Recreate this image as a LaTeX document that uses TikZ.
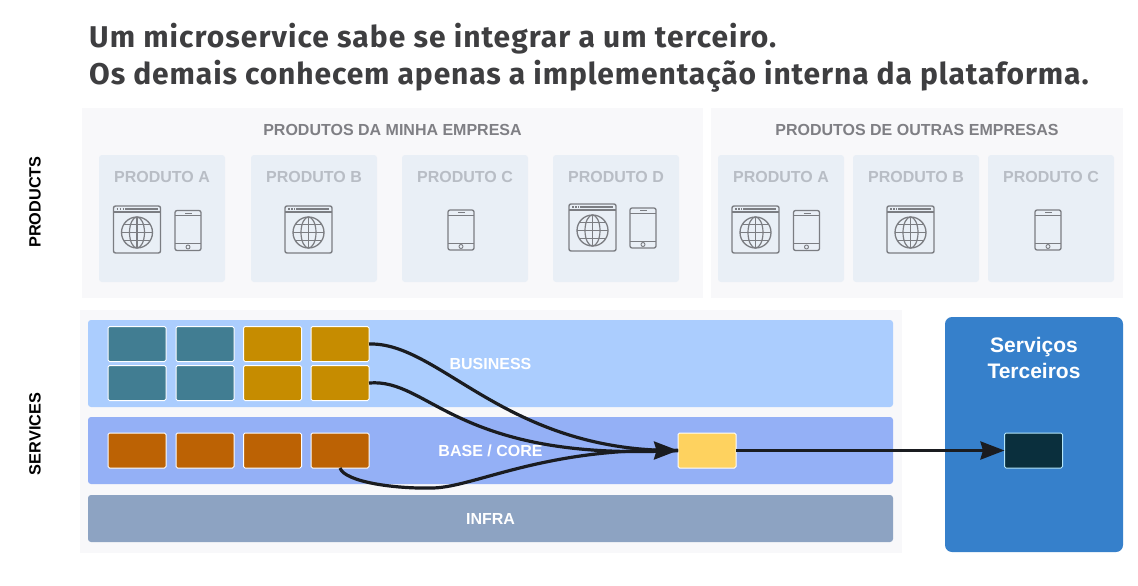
\documentclass[tikz,border=0pt]{standalone}
\usepackage{fontspec}
\setmainfont{Liberation Sans}
\newfontfamily\titlefont[LetterSpace=3.0]{Fira Sans}
\newfontfamily\titlefontb[LetterSpace=3.5]{Fira Sans}
\usetikzlibrary{arrows.meta}
\definecolor{titlec}{HTML}{3E3E40}
\definecolor{panelc}{HTML}{F8F8FA}
\definecolor{cardc}{HTML}{E9EFF6}
\definecolor{cardtext}{HTML}{B8BDC5}
\definecolor{headtext}{HTML}{7F7F84}
\definecolor{iconc}{HTML}{7B7D82}
\definecolor{businessc}{HTML}{ABCDFE}
\definecolor{basec}{HTML}{94B0F6}
\definecolor{infrac}{HTML}{8DA3C2}
\definecolor{thirdc}{HTML}{3680CB}
\definecolor{tealc}{HTML}{417D92}
\definecolor{goldc}{HTML}{C68C00}
\definecolor{orangec}{HTML}{BC6204}
\definecolor{yellowc}{HTML}{FED25F}
\definecolor{darkc}{HTML}{0A2F3D}
\definecolor{arrowc}{HTML}{1A1C20}
\tikzset{
  panel/.style={fill=panelc,draw=none,inner sep=0pt,outer sep=0pt,anchor=north west},
  card/.style={fill=cardc,draw=none,rounded corners=3pt,inner sep=0pt,outer sep=0pt,minimum width=126pt,minimum height=127pt,anchor=north west},
  band/.style={draw=none,rounded corners=3pt,inner sep=0pt,outer sep=0pt,minimum width=805pt,anchor=north west},
  cell/.style={draw=white,line width=1pt,rounded corners=1.5pt,inner sep=0pt,outer sep=0pt,minimum width=58pt,minimum height=35pt,anchor=north west},
  headlabel/.style={text=headtext,font=\bfseries\fontsize{16}{18}\selectfont,inner sep=0pt},
  cardlabel/.style={text=cardtext,font=\bfseries\fontsize{16}{18}\selectfont,inner sep=0pt},
  bandlabel/.style={text=white,font=\bfseries\fontsize{16}{18}\selectfont,inner sep=0pt},
  sidelabel/.style={text=black,font=\bfseries\fontsize{16.3}{18}\selectfont,inner sep=0pt,rotate=90},
  titleline/.style={text=titlec,inner sep=0pt,anchor=west},
  flow/.style={draw=arrowc,line width=3.2pt},
  flowhead/.style={draw=arrowc,line width=3.2pt,-{Stealth[length=24pt,width=18pt,inset=2.5pt]}},
  web/.pic={
    \draw[iconc,line width=1.4pt,rounded corners=2pt] (0,0) rectangle (47,47);
    \draw[iconc,line width=1.2pt] (0,6) -- (47,6);
    \draw[iconc,line width=1.1pt] (11,3) -- (44,3);
    \draw[iconc,line width=1.1pt,dash pattern=on 1.5pt off 1.5pt] (3,3) -- (10,3);
    \draw[iconc,line width=1.3pt] (23.5,26.5) circle[radius=15.5];
    \draw[iconc,line width=1.2pt] (23.5,26.5) ellipse[x radius=7.5,y radius=15.5];
    \draw[iconc,line width=1.2pt] (23.5,11) -- (23.5,42) (8,26.5) -- (39,26.5)
      (10,18.5) -- (37,18.5) (10,34.5) -- (37,34.5);
  },
  phone/.pic={
    \draw[iconc,line width=1.3pt,rounded corners=2pt] (0,0) rectangle (26,40);
    \draw[iconc,line width=0.8pt] (0,5) -- (26,5) (0,33) -- (26,33);
    \draw[iconc,line width=0.8pt] (10,2.5) -- (17,2.5);
    \draw[iconc,line width=0.9pt] (13,36.5) circle[radius=2];
  },
}
\begin{document}
\begin{tikzpicture}[x=1pt,y=-1pt]
\useasboundingbox (0,0) rectangle (1138,586);
\fill[white] (0,0) rectangle (1138,586);
% title
\node[titleline,font=\titlefontb\bfseries\fontsize{30}{34}\selectfont] (t1) at (89,38.5) {Um microservice sabe se integrar a um terceiro.};
\node[titleline,font=\titlefont\bfseries\fontsize{30}{34}\selectfont] (t2) at (89,76) {Os demais conhecem apenas a implementação interna da plataforma.};
% panels
\node[panel,minimum width=621pt,minimum height=190pt] (pmine) at (82,108) {};
\node[panel,minimum width=412pt,minimum height=190pt] (pother) at (711,108) {};
\node[panel,minimum width=822pt,minimum height=243pt] (psvc) at (80,310) {};
\node[headlabel] (hmine) at (392.5,130) {PRODUTOS DA MINHA EMPRESA};
\node[headlabel] (hother) at (917,130) {PRODUTOS DE OUTRAS EMPRESAS};
\node[sidelabel] (sprod) at (35,202) {PRODUCTS};
\node[sidelabel] (ssvc) at (35,434) {SERVICES};
% cards
\foreach \nm/\cx/\lab in {ca/99/PRODUTO A,cb/251/PRODUTO B,cc/402/PRODUTO C,cd/553/PRODUTO D,ce/718/PRODUTO A,cf/853/PRODUTO B,cg/988/PRODUTO C}{
  \node[card] (\nm) at (\cx,155) {};
  \node[cardlabel,xshift=63pt] (\nm-l) at (\cx,177) {\lab};
}
% icons
\pic at (113.5,206) {web};  \pic at (175,210.5) {phone};
\pic at (285,206) {web};
\pic at (448,210) {phone};
\pic at (569,204) {web};    \pic at (630,208) {phone};
\pic at (732,206) {web};    \pic at (793.5,210.5) {phone};
\pic at (887,206) {web};
\pic at (1035,210) {phone};
% bands
\node[band,fill=businessc,minimum height=87pt] (business) at (88,320) {};
\node[band,fill=basec,minimum height=67pt] (base) at (88,417) {};
\node[band,fill=infrac,minimum height=47pt] (infra) at (88,495) {};
\node[bandlabel] (lbus) at (490.5,364) {BUSINESS};
\node[bandlabel] (lbase) at (490.5,451) {BASE / CORE};
\node[bandlabel] (linf) at (490.5,519) {INFRA};
% third party
\node[fill=thirdc,rounded corners=7pt,inner sep=0pt,outer sep=0pt,anchor=north west,minimum width=178pt,minimum height=235pt] (third) at (945,317) {};
\node[text=white,font=\bfseries\fontsize{21}{26}\selectfont,align=center,inner sep=0pt] (lthird) at (1034,357.7) {Serviços\\Terceiros};
% cells
\node[cell,fill=tealc] (t11) at (108,326.5) {};
\node[cell,fill=tealc] (t12) at (176,326.5) {};
\node[cell,fill=goldc] (g11) at (243.5,326.5) {};
\node[cell,fill=goldc] (g12) at (311,326.5) {};
\node[cell,fill=tealc] (t21) at (108,365.5) {};
\node[cell,fill=tealc] (t22) at (176,365.5) {};
\node[cell,fill=goldc] (g21) at (243.5,365.5) {};
\node[cell,fill=goldc] (g22) at (311,365.5) {};
\node[cell,fill=orangec] (o1) at (108,433) {};
\node[cell,fill=orangec] (o2) at (176,433) {};
\node[cell,fill=orangec] (o3) at (243.5,433) {};
\node[cell,fill=orangec] (o4) at (311,433) {};
\node[cell,fill=yellowc] (yel) at (678,433) {};
\node[cell,fill=darkc,draw=cyan!30!white] (dark) at (1004.5,433) {};
% connectors
\draw[flow] (g12.east) .. controls (440,342) and (505,452) .. (yel.west);
\draw[flow] (g22.east) .. controls (430,378) and (455,462) .. (yel.west);
\draw[flow] (o4.south) .. controls (345,482) and (395,489) .. (433,488) .. controls (475,487) and (545,447) .. (yel.west);
\draw[flowhead] (yel.west)++(-30,0) -- (yel.west);
\draw[flowhead] (yel.east) -- (dark.west);
\end{tikzpicture}
\end{document}
